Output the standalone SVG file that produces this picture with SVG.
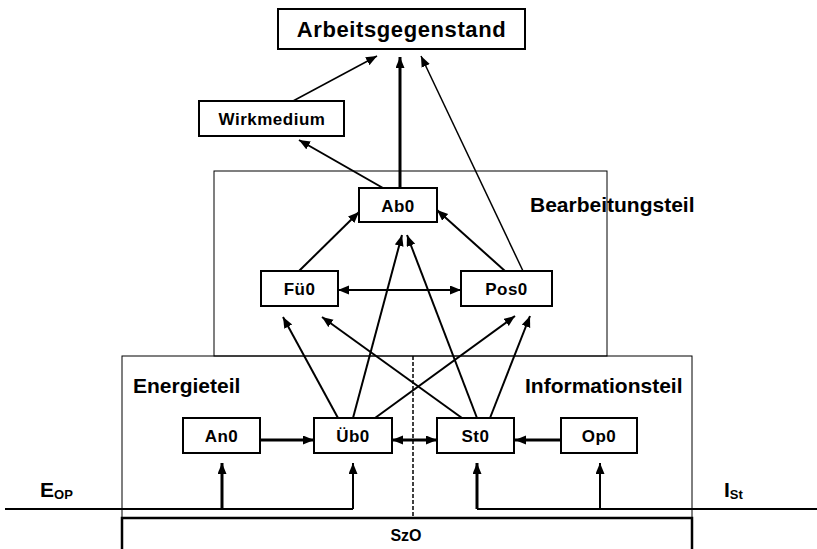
<svg xmlns="http://www.w3.org/2000/svg" width="817" height="549" viewBox="0 0 817 549">
<style>
  text { font-family: "Liberation Sans", Arial, sans-serif; font-weight: bold; fill: #000; }
  .node rect { fill: #fff; stroke: #000; stroke-width: 2; }
  .lbl { font-size: 17px; letter-spacing: 0.5px; text-anchor: middle; }
  .region { fill: none; stroke: #000; stroke-width: 1; }
  .rlbl { font-size: 21px; }
  .c { stroke: #000; stroke-width: 2; fill: none; }
  .thin { stroke-width: 1.5; }
  .thick { stroke-width: 3; }
  .arr { marker-end: url(#ah); }
  .bi { marker-start: url(#ah); marker-end: url(#ah); }
</style>
<defs>
  <marker id="ah" markerUnits="userSpaceOnUse" markerWidth="12" markerHeight="10" refX="11" refY="4.5" orient="auto-start-reverse" viewBox="0 0 12 10">
    <path d="M0,0 L11,4.5 L0,9 z" fill="#000"/>
  </marker>
</defs>
<rect width="817" height="549" fill="#fff"/>

<g id="regions">
  <rect id="bearbeitungsteil" class="region" x="214" y="171" width="393" height="185"/>
  <rect id="energie-informationsteil" class="region" x="122" y="356" width="570" height="162"/>
  <line x1="413" y1="356" x2="413" y2="518" stroke="#000" stroke-width="1.5" stroke-dasharray="4,2"/>
  <text class="rlbl" x="530" y="212">Bearbeitungsteil</text>
  <text class="rlbl" x="133" y="393">Energieteil</text>
  <text class="rlbl" x="525" y="393">Informationsteil</text>
</g>

<g id="szo">
  <path d="M122,556 V518 H692 V556" fill="#fff" stroke="#000" stroke-width="2.5"/>
  <text x="406" y="541" font-size="16" text-anchor="middle">SzO</text>
</g>

<g id="connectors">
  <line class="c thin arr" x1="293" y1="101" x2="377" y2="56"/>
  <line class="c thick arr" x1="400" y1="188" x2="400" y2="57"/>
  <line class="c thin arr" x1="523" y1="271" x2="421" y2="56"/>
  <line class="c arr" x1="383" y1="188" x2="299" y2="140"/>
  <line class="c arr" x1="299" y1="271" x2="359" y2="212"/>
  <line class="c arr" x1="505" y1="271" x2="437" y2="210"/>
  <line class="c bi" x1="338" y1="290" x2="461" y2="290"/>
  <line class="c arr" x1="338" y1="418" x2="283" y2="317"/>
  <line class="c arr" x1="353" y1="418" x2="402" y2="235"/>
  <line class="c arr" x1="375" y1="418" x2="515" y2="316"/>
  <line class="c arr" x1="462" y1="418" x2="322" y2="317"/>
  <line class="c arr" x1="477" y1="418" x2="407" y2="235"/>
  <line class="c arr" x1="490" y1="418" x2="530" y2="316"/>
  <line class="c thick arr" x1="260" y1="440" x2="314" y2="440"/>
  <line class="c thick bi" x1="392" y1="440" x2="437" y2="440"/>
  <line class="c thick arr" x1="561" y1="440" x2="515" y2="440"/>
  <path class="c" d="M5,509 H353"/>
  <line class="c thick arr" x1="222" y1="509" x2="222" y2="463"/>
  <line class="c arr" x1="353" y1="509" x2="353" y2="463"/>
  <path class="c" d="M477,509 H817"/>
  <line class="c thick arr" x1="477" y1="509" x2="477" y2="463"/>
  <line class="c arr" x1="600" y1="509" x2="600" y2="463"/>
</g>

<g id="arbeitsgegenstand" class="node">
  <rect x="278" y="9" width="247" height="40"/>
  <text x="401.5" y="37" font-size="22" letter-spacing="0.6" text-anchor="middle">Arbeitsgegenstand</text>
</g>
<g id="wirkmedium" class="node">
  <rect x="199" y="101" width="145" height="35"/>
  <text class="lbl" x="272" y="124.5">Wirkmedium</text>
</g>
<g id="ab0" class="node">
  <rect x="359" y="188" width="78" height="34"/>
  <text class="lbl" x="398" y="211.5">Ab0</text>
</g>
<g id="fue0" class="node">
  <rect x="261" y="271" width="77" height="35"/>
  <text class="lbl" x="299.5" y="294.5">Fü0</text>
</g>
<g id="pos0" class="node">
  <rect x="461" y="271" width="91" height="35"/>
  <text class="lbl" x="506.5" y="294.5">Pos0</text>
</g>
<g id="an0" class="node">
  <rect x="183" y="418" width="77" height="35"/>
  <text class="lbl" x="221.5" y="442">An0</text>
</g>
<g id="ueb0" class="node">
  <rect x="314" y="418" width="78" height="35"/>
  <text class="lbl" x="353" y="442">Üb0</text>
</g>
<g id="st0" class="node">
  <rect x="437" y="418" width="77" height="35"/>
  <text class="lbl" x="475.5" y="442">St0</text>
</g>
<g id="op0" class="node">
  <rect x="561" y="418" width="76" height="35"/>
  <text class="lbl" x="599" y="442">Op0</text>
</g>

<g id="labels">
  <text x="40" y="497" font-size="21">E<tspan font-size="13" dy="2">OP</tspan></text>
  <text x="724" y="497" font-size="21">I<tspan font-size="13" dy="2">St</tspan></text>
</g>
</svg>
